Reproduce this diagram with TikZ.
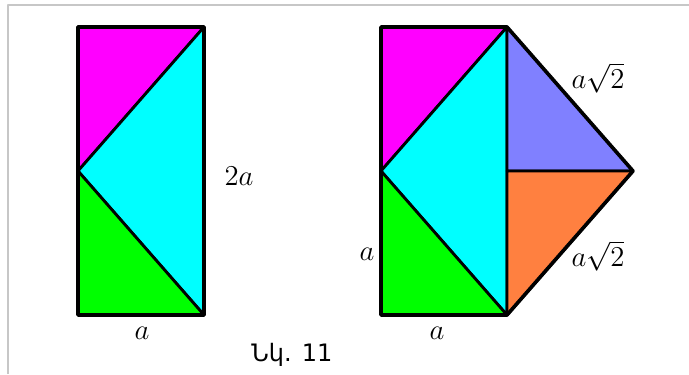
\documentclass[tikz,border=0pt]{standalone}
\usepackage{fontspec}
\newfontfamily\armfont{DejaVu Sans}
\usetikzlibrary{calc}

\definecolor{piece1}{RGB}{255,0,255}
\definecolor{piece2}{RGB}{0,255,255}
\definecolor{piece3}{RGB}{0,255,0}
\definecolor{piece4}{RGB}{128,128,255}
\definecolor{piece5}{RGB}{255,128,64}

\begin{document}
\begin{tikzpicture}[x=0.5pt, y=-0.5pt, line width=1.4pt, line join=round, font=\Large]
    \useasboundingbox (0,0) rectangle (689,374);

    % frame
    \draw[black!22, line width=1pt] (8,374) -- (8,5) -- (689,5);

    % left figure
    \coordinate (A1) at (78, 27);
    \coordinate (B1) at (204, 27);
    \coordinate (C1) at (204, 315);
    \coordinate (D1) at (78, 315);
    \coordinate (M1) at (78, 171);

    \filldraw[fill=piece1] (A1) -- (B1) -- (M1) -- cycle;
    \filldraw[fill=piece2] (B1) -- (C1) -- (M1) -- cycle;
    \filldraw[fill=piece3] (M1) -- (C1) -- (D1) -- cycle;
    \draw[line width=1.8pt] (A1) -- (B1) -- (C1) -- (D1) -- cycle;

    % right figure
    \coordinate (A2) at (381, 27);
    \coordinate (B2) at (507, 27);
    \coordinate (C2) at (507, 315);
    \coordinate (D2) at (381, 315);
    \coordinate (M2) at (381, 171);
    \coordinate (E2) at (507, 171);
    \coordinate (T2) at (633, 171);

    \filldraw[fill=piece1] (A2) -- (B2) -- (M2) -- cycle;
    \filldraw[fill=piece2] (B2) -- (C2) -- (M2) -- cycle;
    \filldraw[fill=piece3] (M2) -- (C2) -- (D2) -- cycle;
    \filldraw[fill=piece4] (B2) -- (E2) -- (T2) -- cycle;
    \filldraw[fill=piece5] (E2) -- (C2) -- (T2) -- cycle;
    \draw[line width=1.8pt] (C2) -- (D2) -- (A2) -- (B2) -- (T2) -- cycle;

    % labels
    \node (side2a) at (239, 176) {$2a$};
    \node (sideA1) at (142, 333) {$a$};
    \node (sideA2) at (367, 254) {$a$};
    \node (sideA3) at (437, 333) {$a$};
    \node (diagT) at (598, 78) {$a\sqrt{2}$};
    \node (diagB) at (598, 256) {$a\sqrt{2}$};

    % caption
    \node[font=\large\armfont] (caption) at (292, 355) {Նկ. 11};
\end{tikzpicture}
\end{document}
